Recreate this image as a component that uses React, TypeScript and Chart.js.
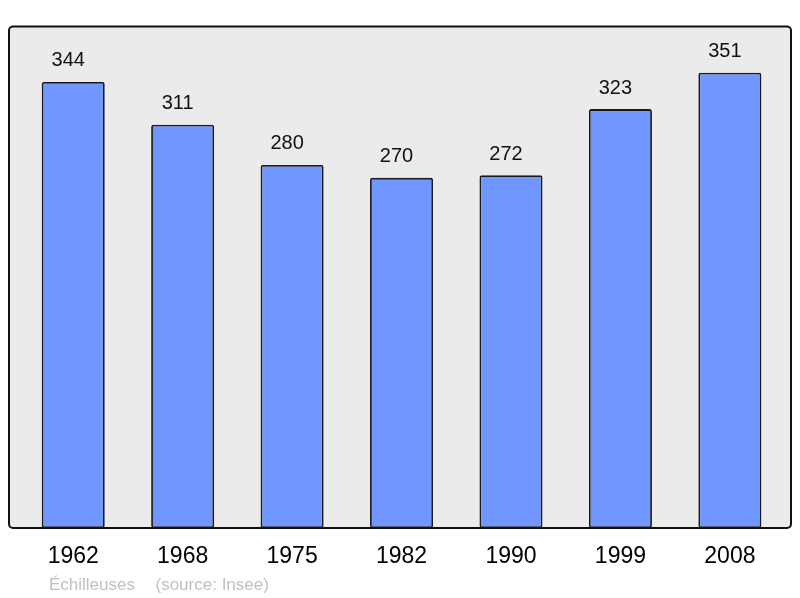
import React, { useEffect, useRef } from "react";
import { Chart, registerables } from "chart.js";

Chart.register(...registerables);

const years = ["1962", "1968", "1975", "1982", "1990", "1999", "2008"];
const population = [344, 311, 280, 270, 272, 323, 351];
const placeName = "Échilleuses";
const sourceText = "(source: Insee)";

const FONT = "'Liberation Sans', Arial, sans-serif";

const framePlugin = {
  id: "frame",
  beforeDatasetsDraw(chart: any) {
    const { ctx } = chart;
    ctx.save();
    ctx.beginPath();
    ctx.roundRect(9, 26.5, 782, 501.5, 4);
    ctx.fillStyle = "#ebebeb";
    ctx.fill();
    ctx.restore();
  },
  afterDatasetsDraw(chart: any) {
    const { ctx } = chart;
    ctx.save();
    ctx.beginPath();
    ctx.roundRect(9, 26.5, 782, 501.5, 4);
    ctx.lineWidth = 2;
    ctx.strokeStyle = "#111";
    ctx.stroke();

    // value labels
    const meta = chart.getDatasetMeta(0);
    ctx.font = `20px ${FONT}`;
    ctx.fillStyle = "#111";
    ctx.textAlign = "center";
    ctx.textBaseline = "alphabetic";
    meta.data.forEach((bar: any, i: number) => {
      ctx.fillText(String(population[i]), bar.x - 5, bar.y - 15.5);
    });

    // source line
    ctx.font = `17px ${FONT}`;
    ctx.fillStyle = "#c0c0c0";
    ctx.textAlign = "left";
    ctx.fillText(placeName, 49, 590);
    ctx.fillText(sourceText, 155.5, 590);
    ctx.restore();
  },
};

export default function App() {
  const ref = useRef<HTMLCanvasElement>(null);
  useEffect(() => {
    if (!ref.current) return;
    const chart = new Chart(ref.current, {
      type: "bar",
      data: {
        labels: years,
        datasets: [
          {
            data: population,
            backgroundColor: "#7096ff",
            borderColor: "#1a1a1a",
            borderWidth: 1.8,
            borderRadius: 2,
            borderSkipped: false,
            barPercentage: 0.576,
            categoryPercentage: 1,
          },
        ],
      },
      options: {
        responsive: false,
        animation: false,
        layout: { padding: { left: 18.5, right: 15.4, top: 26.5, bottom: 12 } },
        plugins: { legend: { display: false }, tooltip: { enabled: false } },
        scales: {
          y: { display: false, min: 0, max: 386.7 },
          x: {
            grid: { display: false, drawTicks: false },
            border: { display: false },
            ticks: {
              color: "#000",
              font: { size: 23, family: FONT },
              padding: 15.2,
              maxRotation: 0,
            },
          },
        },
      },
      plugins: [framePlugin],
    });
    return () => chart.destroy();
  }, []);
  return (
    <div style={{ position: "absolute", left: 0, top: 0, width: 800, height: 598, background: "#fff" }}>
      <canvas ref={ref} width={800} height={598} />
    </div>
  );
}
